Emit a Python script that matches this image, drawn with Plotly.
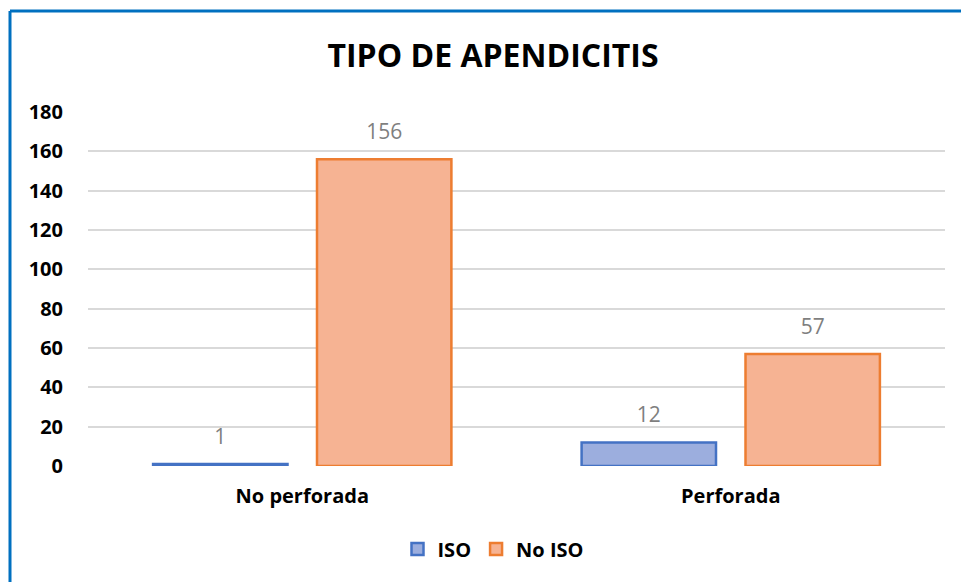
import plotly.graph_objects as go

categories = ["No perforada", "Perforada"]
iso_values = [1, 12]
no_iso_values = [156, 57]
y_ticks = [0, 20, 40, 60, 80, 100, 120, 140, 160, 180]

W, H = 961, 582
L, R, T, B = 88, 16, 112, 116
plot_w = W - L - R
plot_h = H - T - B


def px_x(x):
    return (x - L) / plot_w


def px_y(y):
    return (H - B - y) / plot_h


label_font = dict(color="#7F7F7F", size=21, family="Open Sans")
bold_font = dict(size=20, color="black", family="Open Sans", weight="bold")

series = [
    ("ISO", iso_values, "#9CAEDE", "#4472C4"),
    ("No ISO", no_iso_values, "#F6B393", "#ED7D31"),
]

fig = go.Figure()
for name, values, fill, edge in series:
    fig.add_trace(go.Bar(
        name=name, x=categories, y=values, offsetgroup=name,
        marker=dict(color=fill, line=dict(color=edge, width=2.5)),
    ))
    # value labels, placed over each bar by the grouped scatter layout
    fig.add_trace(go.Scatter(
        x=categories, y=values, offsetgroup=name, showlegend=False,
        mode="markers+text", text=[str(v) for v in values],
        textposition="top center", textfont=label_font,
        marker=dict(size=22, opacity=0), cliponaxis=False, hoverinfo="skip",
    ))

# blue frame of the chart (top and left edges)
fig.add_shape(type="line", xref="paper", yref="paper",
              x0=px_x(10), x1=px_x(W), y0=px_y(11), y1=px_y(11),
              line=dict(color="#0070C0", width=3))
fig.add_shape(type="line", xref="paper", yref="paper",
              x0=px_x(10), x1=px_x(10), y0=px_y(11), y1=px_y(H),
              line=dict(color="#0070C0", width=3))

fig.update_layout(
    width=W, height=H,
    margin=dict(l=L, r=R, t=T, b=B),
    paper_bgcolor="white", plot_bgcolor="white",
    barmode="group", bargap=0.235, bargroupgap=0.18,
    scattermode="group", scattergap=0.235,
    title=dict(text="<b>TIPO DE APENDICITIS</b>", x=493 / W, xanchor="center",
               y=1 - 56 / H, yanchor="middle",
               font=dict(size=32, color="black", family="Open Sans")),
    font=dict(family="Open Sans", color="black"),
    xaxis=dict(showgrid=False, showline=False, ticks="",
               tickfont=bold_font, ticklabelstandoff=16),
    yaxis=dict(range=[0, 180], tickvals=y_ticks, showline=False, zeroline=False,
               gridcolor="#D9D9D9", gridwidth=2,
               tickfont=bold_font, ticklabelstandoff=24),
    legend=dict(orientation="h", x=px_x(493), xanchor="center",
                y=px_y(549), yanchor="middle",
                font=bold_font, itemwidth=30),
)

fig.write_html("out.html", config={"displayModeBar": False},
               post_script="document.body.style.margin='0';")
